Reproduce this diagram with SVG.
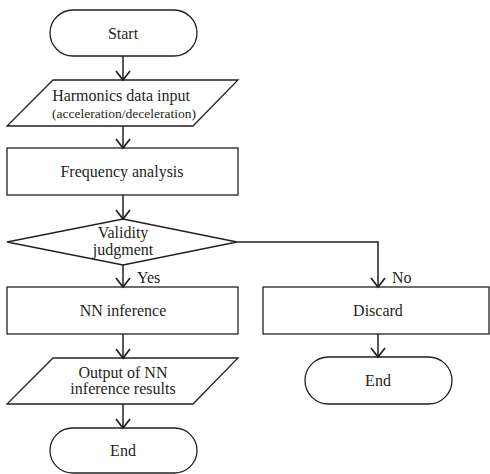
<svg xmlns="http://www.w3.org/2000/svg" width="490" height="474" viewBox="0 0 490 474">
<style>
.s{fill:#fff;stroke:#231f20;stroke-width:1.3}
.c{fill:none;stroke:#231f20;stroke-width:1.5}
</style>
<defs>
<marker id="a" markerWidth="12" markerHeight="16" refX="10" refY="8" orient="auto" markerUnits="userSpaceOnUse">
<path d="M1,1 L10,8 L1,15" fill="none" stroke="#231f20" stroke-width="1.7"/>
</marker>
</defs>
<rect width="490" height="474" fill="#fff"/>
<g id="start">
<rect class="s" x="50" y="10" width="147" height="46" rx="23"/>
<text x="123" y="39" font-family="Liberation Serif" font-size="16" text-anchor="middle" fill="#231f20">Start</text>
</g>
<g id="input">
<polygon class="s" points="53,80 238,80 193,126 7,126"/>
<text x="121" y="101" font-family="Liberation Serif" font-size="16" text-anchor="middle" fill="#231f20">Harmonics data input</text>
<text x="124" y="118" font-family="Liberation Serif" font-size="13.5" text-anchor="middle" fill="#231f20">(acceleration/deceleration)</text>
</g>
<g id="freq">
<rect class="s" x="7" y="148" width="231" height="47"/>
<text x="122" y="177" font-family="Liberation Serif" font-size="16" text-anchor="middle" fill="#231f20">Frequency analysis</text>
</g>
<g id="validity">
<polygon class="s" points="123,219 237,242 123,265 7,242"/>
<text x="123" y="238" font-family="Liberation Serif" font-size="16" text-anchor="middle" fill="#231f20">Validity</text>
<text x="123" y="255" font-family="Liberation Serif" font-size="16" text-anchor="middle" fill="#231f20">judgment</text>
</g>
<g id="nn">
<rect class="s" x="7" y="287" width="231" height="47"/>
<text x="123" y="316" font-family="Liberation Serif" font-size="16" text-anchor="middle" fill="#231f20">NN inference</text>
</g>
<g id="discard">
<rect class="s" x="263" y="287" width="226" height="47"/>
<text x="378" y="316" font-family="Liberation Serif" font-size="16" text-anchor="middle" fill="#231f20">Discard</text>
</g>
<g id="output">
<polygon class="s" points="53,358 238,358 193,404 7,404"/>
<text x="123" y="378" font-family="Liberation Serif" font-size="16" text-anchor="middle" fill="#231f20">Output of NN</text>
<text x="123" y="394" font-family="Liberation Serif" font-size="16" text-anchor="middle" fill="#231f20">inference results</text>
</g>
<g id="end1">
<rect class="s" x="50" y="428" width="147" height="45" rx="22.5"/>
<text x="123" y="456" font-family="Liberation Serif" font-size="16" text-anchor="middle" fill="#231f20">End</text>
</g>
<g id="end2">
<rect class="s" x="305" y="357" width="147" height="47" rx="23.5"/>
<text x="378" y="386" font-family="Liberation Serif" font-size="16" text-anchor="middle" fill="#231f20">End</text>
</g>
<g id="connectors">
<path class="c" d="M123,56 V80" marker-end="url(#a)"/>
<path class="c" d="M123,126 V148" marker-end="url(#a)"/>
<path class="c" d="M123,195 V219" marker-end="url(#a)"/>
<path class="c" d="M123,265 V287" marker-end="url(#a)"/>
<path class="c" d="M237,242 H378 V287" marker-end="url(#a)"/>
<path class="c" d="M123,334 V358" marker-end="url(#a)"/>
<path class="c" d="M123,404 V428" marker-end="url(#a)"/>
<path class="c" d="M378,334 V357" marker-end="url(#a)"/>
<text x="137" y="283" font-family="Liberation Serif" font-size="16" fill="#231f20">Yes</text>
<text x="392" y="283" font-family="Liberation Serif" font-size="16" fill="#231f20">No</text>
</g>
</svg>
